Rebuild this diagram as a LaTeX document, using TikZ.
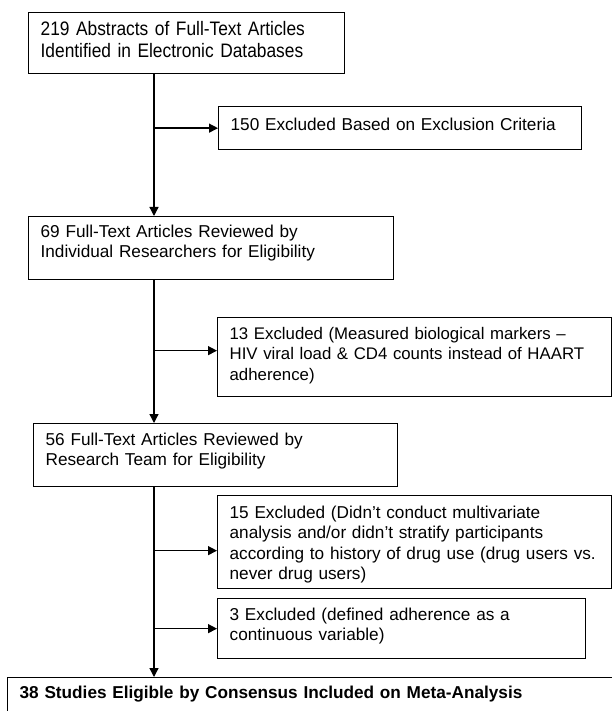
\documentclass[tikz,border=0pt]{standalone}
\usepackage{fontspec}
\setmainfont{Liberation Sans}
\newfontfamily\etroite[FakeStretch=0.89]{Liberation Sans}
\usetikzlibrary{arrows.meta}

\tikzset{
  cadre/.style={draw, line width=1.3pt, anchor=north west, align=left,
    inner xsep=12pt, inner ysep=0pt, text height=22pt,
    font=\fontsize{17.2}{20.3}\selectfont},
}

\begin{document}
\begin{tikzpicture}[x=1pt, y=-1pt, line width=1.3pt, >={Triangle[length=9pt,width=9pt]}]

% Cadre
\useasboundingbox (0,0) rectangle (612,711);
\clip (0,0) rectangle (612,711);

% Etapes
\node[cadre, text width=292pt, text height=23pt, text depth=38pt, font=\etroite\fontsize{19.5}{22}\selectfont] (abs) at (28,12)
  {219 Abstracts of Full-Text Articles\\Identified in Electronic Databases};
\node[cadre, text width=341pt, text height=21pt, text depth=42pt] (rev1) at (28,216)
  {69 Full-Text Articles Reviewed by\\Individual Researchers for Eligibility};
\node[cadre, text width=340pt, text depth=41pt] (rev2) at (33,423)
  {56 Full-Text Articles Reviewed by\\Research Team for Eligibility};
\node[cadre, text width=599pt, text height=21pt, text depth=40pt, font=\fontsize{17.2}{20}\selectfont\bfseries] (incl) at (7,677)
  {38 Studies Eligible by Consensus Included on Meta-Analysis};

% Exclusions
\node[cadre, text width=339pt, text height=24pt, text depth=19pt] (excl1) at (218,106)
  {150 Excluded Based on Exclusion Criteria};
\node[cadre, text width=370pt, text depth=57pt, font=\fontsize{16.8}{20.3}\selectfont] (excl2) at (217,317)
  {13 Excluded (Measured biological markers --\\HIV viral load \& CD4 counts instead of HAART\\adherence)};
\node[cadre, text width=370pt, text height=23pt, text depth=70pt] (excl3) at (217,495)
  {15 Excluded (Didn't conduct multivariate\\analysis and/or didn't stratify participants\\according to history of drug use (drug users vs.\\never drug users)};
\node[cadre, text width=344pt, text depth=38pt] (excl4) at (217,598)
  {3 Excluded (defined adherence as a\\continuous variable)};

% Axe vertical
\coordinate (axe) at (154,0);
\draw[->] (abs.south -| axe) -- (rev1.north -| axe);
\draw[->] (rev1.south -| axe) -- (rev2.north -| axe);
\draw[->] (rev2.south -| axe) -- (incl.north -| axe);

% Fleches vers les exclusions
\coordinate (e2) at ([yshift=6.5pt]excl2.west);
\coordinate (e3) at ([yshift=-8.5pt]excl3.west);
\draw[->] (axe |- excl1.west) -- (excl1.west);
\draw[->] (axe |- e2) -- (e2);
\draw[->] (axe |- e3) -- (e3);
\draw[->] (axe |- excl4.west) -- (excl4.west);

\end{tikzpicture}
\end{document}
